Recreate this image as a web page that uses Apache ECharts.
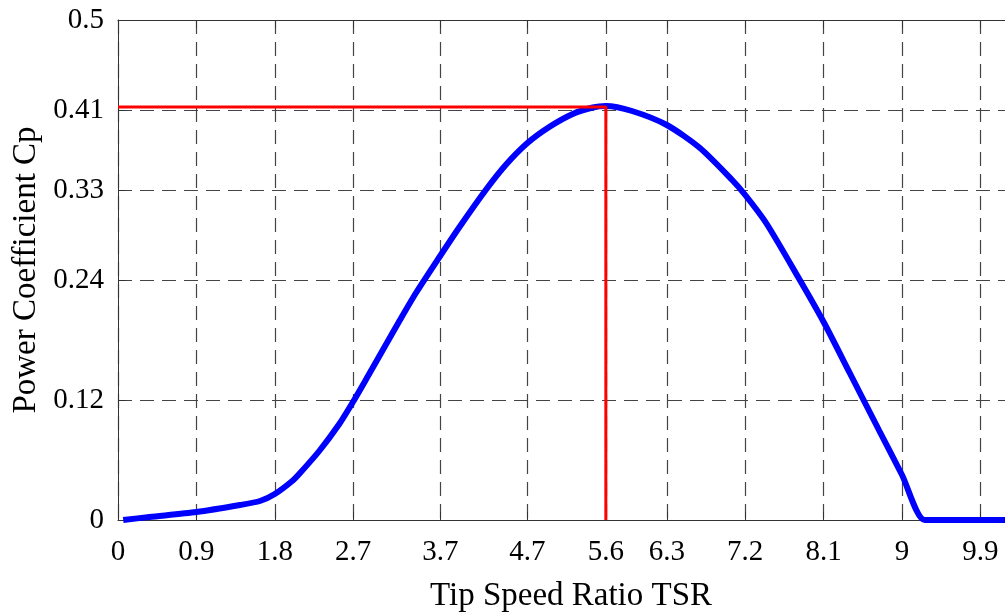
<!DOCTYPE html>
<html>
<head>
<meta charset="utf-8">
<title>Power Coefficient Cp vs TSR</title>
<script src="https://cdn.jsdelivr.net/npm/echarts@6/dist/echarts.min.js"></script>
<style>
    html, body { margin: 0; padding: 0; background: #fff; }
    #chart { width: 1005px; height: 613px; }
</style>
</head>
<body>
<div id="chart"></div>
<script>
// Cp-TSR curve
var tsr = [0.06, 0.36, 0.9, 1.4, 1.63, 1.8, 2.0, 2.09, 2.31, 2.54, 2.69, 2.85, 3.04, 3.23, 3.42, 3.69, 3.92, 4.23, 4.46, 4.7,
           4.95, 5.22, 5.45, 5.6, 5.9, 6.3, 6.68, 7.05, 7.2, 7.44, 7.82, 8.1, 8.4, 8.74, 9.0, 9.26, 9.5, 10.4];
var cp  = [0, 0.003, 0.008, 0.015, 0.019, 0.026, 0.039, 0.047, 0.069, 0.096, 0.117, 0.141, 0.17, 0.199, 0.227, 0.263, 0.293, 0.331, 0.356, 0.377,
           0.393, 0.406, 0.4125, 0.414, 0.409, 0.395, 0.372, 0.34, 0.325, 0.297, 0.241, 0.198, 0.147, 0.089, 0.045, 0, 0, 0];

// tick labels
var xTicks = [0, 0.9, 1.8, 2.7, 3.7, 4.7, 5.6, 6.3, 7.2, 8.1, 9, 9.9];
var yTicks = [0, 0.12, 0.24, 0.33, 0.41, 0.5];

// optimum point (red guide lines)
var peakTsr = 5.6;
var peakCp = 0.413;

var font = 'Liberation Serif, Times New Roman, serif';
var gridLine = { show: true, lineStyle: { color: '#444', width: 1.2, type: [14, 8] } };

var chart = echarts.init(document.getElementById('chart'));

chart.setOption({
    animation: false,
    backgroundColor: '#fff',
    grid: { left: 118, top: 20, right: -19, bottom: 93, outerBoundsMode: 'none' },
    xAxis: [
        {
            type: 'value',
            min: 0,
            max: 10.4,
            name: 'Tip Speed Ratio TSR',
            nameLocation: 'middle',
            nameGap: 60,
            nameTextStyle: { fontFamily: font, fontSize: 33, color: '#000' },
            axisLine: { show: true, onZero: false, lineStyle: { color: '#333', width: 1 } },
            axisTick: { show: true, inside: true, length: 8, customValues: xTicks, lineStyle: { color: '#333' } },
            axisLabel: { customValues: xTicks, margin: 18, fontFamily: font, fontSize: 29, color: '#000' },
            splitLine: gridLine
        },
        {
            type: 'value',
            position: 'top',
            min: 0,
            max: 10.4,
            axisLine: { show: true, onZero: false, lineStyle: { color: '#333', width: 1 } },
            axisTick: { show: true, inside: true, length: 8, customValues: xTicks, lineStyle: { color: '#333' } },
            axisLabel: { show: false },
            splitLine: { show: false }
        }
    ],
    yAxis: {
        type: 'value',
        min: 0,
        max: 0.5,
        name: 'Power Coefficient Cp',
        nameLocation: 'middle',
        nameGap: 75,
        nameTextStyle: { fontFamily: font, fontSize: 33, color: '#000' },
        axisLine: { show: true, onZero: false, lineStyle: { color: '#333', width: 1 } },
        axisTick: { show: true, inside: true, length: 8, customValues: yTicks, lineStyle: { color: '#333' } },
        axisLabel: { customValues: yTicks, margin: 14, fontFamily: font, fontSize: 29, color: '#000' },
        splitLine: gridLine
    },
    series: [
        {
            name: 'Cp',
            type: 'line',
            data: tsr.map(function (x, i) { return [x, cp[i]]; }),
            showSymbol: false,
            smooth: 0.25,
            lineStyle: { color: '#0000ff', width: 6 },
            z: 2
        },
        {
            name: 'optimum',
            type: 'line',
            data: [[0, peakCp], [peakTsr, peakCp], [peakTsr, 0]],
            showSymbol: false,
            lineStyle: { color: '#ff0000', width: 3 },
            z: 3
        }
    ]
});
</script>
</body>
</html>
